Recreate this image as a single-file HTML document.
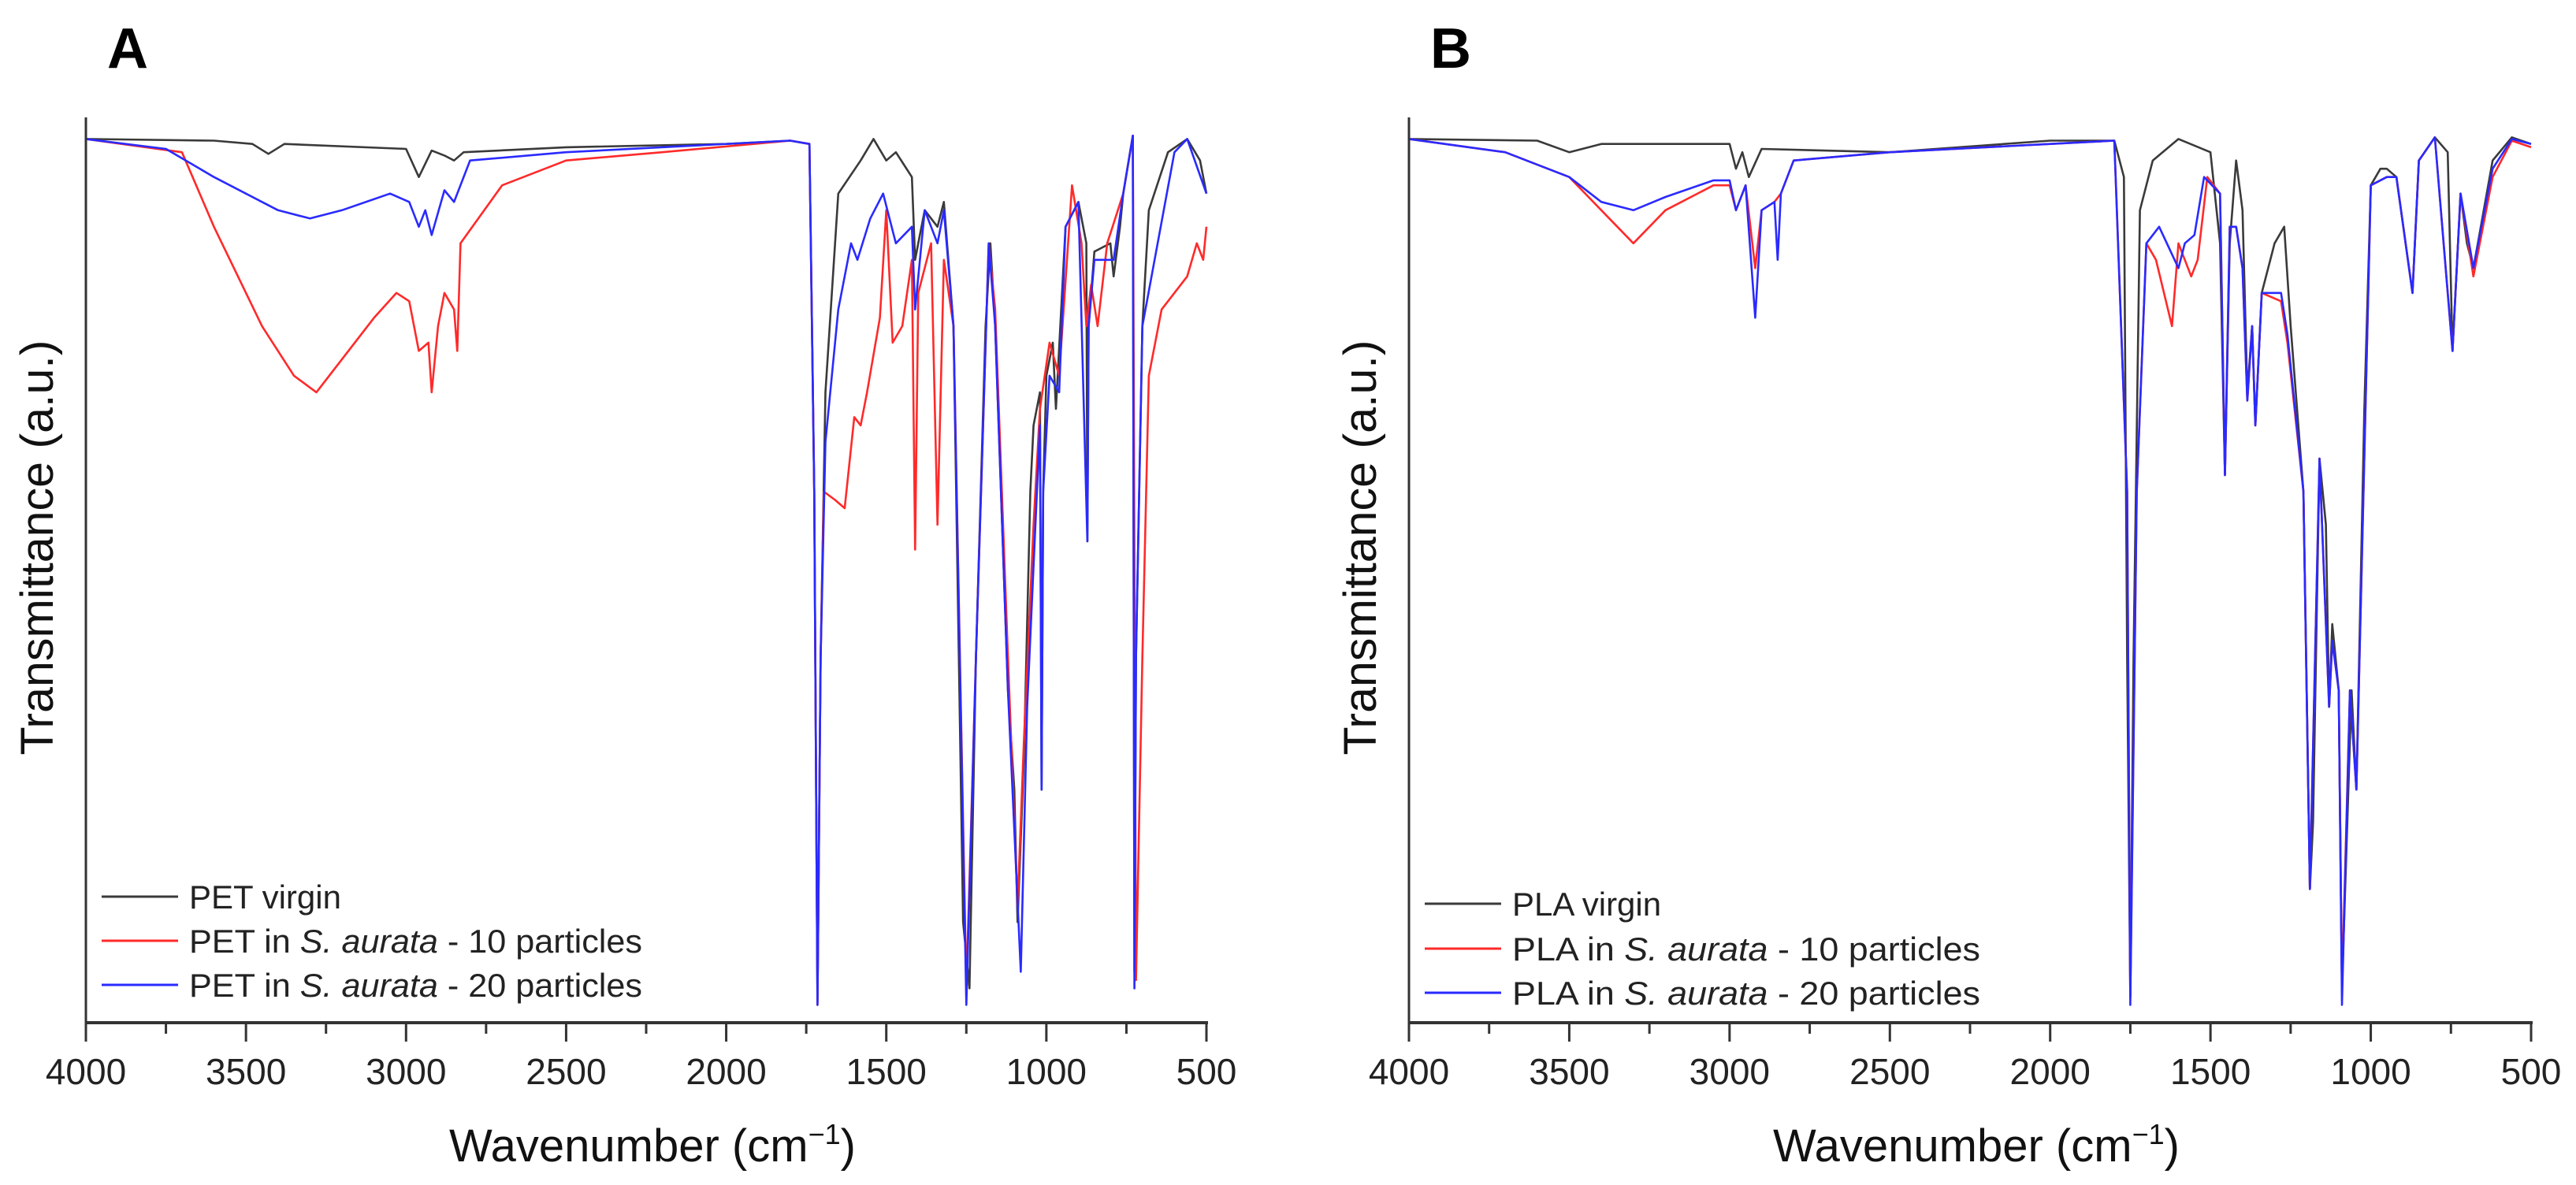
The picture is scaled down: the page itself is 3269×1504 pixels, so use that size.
<!DOCTYPE html>
<html><head><meta charset="utf-8"><style>
html,body{margin:0;padding:0;background:#fff}
svg{display:block;font-family:"Liberation Sans",Arial,sans-serif}
</style></head><body>
<svg id="chart" width="3269" height="1504" viewBox="0 0 3269 1504" xmlns="http://www.w3.org/2000/svg"></svg>
<script>
// Wavenumbers (cm-1) and signal values (arbitrary a.u., larger = lower transmittance position)
const petVirginWn = [4000,3600,3480,3430,3380,3000,2960,2920,2880,2850,2820,2500,2000,1800,1740,1725,1715,1705,1690,1650,1580,1540,1500,1470,1420,1410,1400,1380,1340,1320,1290,1260,1240,1220,1190,1175,1160,1120,1100,1090,1070,1050,1040,1020,1015,1010,1000,980,970,940,900,875,872,868,850,800,790,770,760,730,725,720,700,680,620,560,520,500];
const petVirginV  = [87,88,90,96,90,93,110,94,97,100,95,92,90,88,90,300,608,400,240,120,100,87,100,95,110,160,150,130,140,125,200,560,600,400,200,150,200,420,480,560,460,300,260,240,480,300,230,210,250,140,125,150,330,200,155,150,170,140,120,85,590,400,200,130,95,87,100,120];
const petR10Wn = [4000,3700,3600,3450,3350,3280,3200,3100,3030,2990,2960,2930,2920,2900,2880,2850,2840,2830,2700,2500,2200,1800,1740,1725,1715,1705,1695,1660,1630,1600,1580,1560,1520,1500,1480,1450,1420,1410,1400,1360,1340,1320,1290,1250,1220,1180,1160,1120,1090,1070,1040,1020,990,960,920,890,875,860,840,810,760,730,720,700,680,640,560,530,510,500];
const petR10V  = [87,95,140,200,230,240,220,195,180,185,215,210,240,200,180,190,215,150,115,100,95,88,90,300,610,400,300,305,310,255,260,240,195,130,210,200,160,335,180,150,320,160,200,600,400,150,190,400,550,450,320,250,210,230,115,150,200,175,200,150,120,85,595,400,230,190,170,150,160,140,180];
const petB20Wn = [4000,3750,3600,3450,3400,3300,3200,3050,2990,2960,2940,2920,2880,2850,2800,2500,1800,1740,1725,1715,1705,1690,1650,1610,1590,1550,1510,1470,1420,1410,1380,1340,1320,1290,1250,1220,1180,1160,1120,1080,1060,1020,1015,1010,990,960,940,900,872,868,850,790,760,730,725,720,700,600,560,500];
const petB20V  = [87,93,110,125,130,135,130,120,125,140,130,145,118,125,100,95,88,90,300,610,400,270,190,150,160,135,120,150,140,190,130,150,130,200,610,400,150,200,420,590,430,260,480,300,230,240,140,125,330,200,160,160,120,85,600,400,200,95,87,120];

const plaVirginWn = [4000,3600,3500,3400,3000,2980,2960,2940,2900,2500,2000,1800,1770,1760,1750,1740,1720,1680,1600,1500,1470,1455,1440,1420,1400,1385,1370,1360,1340,1300,1270,1250,1210,1190,1180,1160,1140,1130,1120,1100,1090,1060,1045,1020,1000,970,950,920,870,850,800,760,745,720,700,680,620,560,500];
const plaVirginV  = [87,88,95,90,90,105,95,110,93,95,88,88,110,400,605,400,130,100,87,95,150,290,150,100,130,240,200,260,180,150,140,200,300,540,500,280,320,430,380,420,600,420,480,250,115,105,105,110,180,100,86,95,215,120,150,165,100,86,90];
const plaR10Wn = [4000,3700,3500,3400,3300,3200,3050,3000,2980,2950,2920,2900,2860,2840,2800,2500,2000,1800,1760,1750,1730,1700,1670,1620,1600,1560,1540,1510,1470,1455,1440,1420,1400,1385,1370,1360,1340,1280,1260,1210,1190,1160,1130,1120,1100,1090,1065,1045,1000,950,920,870,850,800,745,720,680,620,560,500];
const plaR10V  = [87,95,110,130,150,130,115,115,130,115,165,130,125,120,100,95,90,88,300,605,300,150,160,200,150,170,160,110,120,290,140,140,165,245,200,260,180,185,210,300,540,280,430,390,420,600,420,480,115,110,110,180,100,86,215,120,170,110,88,92];
const plaB20Wn = [4000,3700,3500,3400,3300,3200,3050,3000,2980,2950,2920,2900,2860,2850,2840,2800,2500,2000,1800,1760,1750,1730,1700,1660,1600,1580,1550,1520,1470,1455,1440,1420,1400,1385,1370,1360,1340,1280,1260,1210,1190,1160,1130,1120,1100,1090,1065,1045,1000,950,920,870,850,800,745,720,680,620,560,500];
const plaB20V  = [87,95,110,125,130,122,112,112,130,115,195,130,125,160,120,100,95,90,88,300,610,300,150,140,165,150,145,110,120,290,140,140,165,245,200,260,180,180,205,300,540,280,430,390,420,610,420,480,115,110,110,180,100,86,215,120,165,105,87,90];

const xTicks = [4000,3500,3000,2500,2000,1500,1000,500];
const xMinorTicks = [3750,3250,2750,2250,1750,1250,750];

const NS = 'http://www.w3.org/2000/svg';
const svg = document.getElementById('chart');
function mk(tag, attrs, parent){const e=document.createElementNS(NS,tag);for(const k in attrs)e.setAttribute(k,attrs[k]);(parent||svg).appendChild(e);return e;}

const panels = [
  {key:'a', letter:'A', x0:109, x1:1531, label:'PET', series:[[petVirginWn,petVirginV,'#3a3a3a','PET virgin'],[petR10Wn,petR10V,'#ff2a2a','10'],[petB20Wn,petB20V,'#2a2aff','20']], legY:[1138,1194,1250], legW:575},
  {key:'b', letter:'B', x0:1788, x1:3212, label:'PLA', series:[[plaVirginWn,plaVirginV,'#3a3a3a','PLA virgin'],[plaR10Wn,plaR10V,'#ff2a2a','10'],[plaB20Wn,plaB20V,'#2a2aff','20']], legY:[1147,1204,1260], legW:594}
];
const yTop=149, yBot=1298;
function yScale(v){return 168 + (v-83)*(1309-168)/(626-83);}

panels.forEach(p=>{
  const xs = w => p.x0 + (4000-w)*(p.x1-p.x0)/3500;
  const g = mk('g',{});
  
  
  const L = mk('text',{x:p.x0+27,y:86,'font-size':72,'font-weight':'bold',fill:'#000'},g);
  L.textContent=p.letter;
  
  
  // series
  p.series.forEach((s,i)=>{
    const pts = s[0].map((w,j)=>xs(w).toFixed(1)+','+yScale(s[1][j]).toFixed(1)).join(' ');
    const pl = mk('polyline',{points:pts,fill:'none',stroke:s[2],'stroke-width':2.6,'stroke-linejoin':'round'},g);
    
    
  });
  // axes
  const ya = mk('line',{x1:p.x0,y1:yTop,x2:p.x0,y2:yBot,stroke:'#333','stroke-width':3},g);
  
  
  const xa = mk('line',{x1:p.x0-1.5,y1:yBot,x2:p.x1+2,y2:yBot,stroke:'#333','stroke-width':4},g);
  
  
  xTicks.forEach(t=>{
    const tk = mk('line',{x1:xs(t),y1:yBot,x2:xs(t),y2:yBot+24,stroke:'#333','stroke-width':3},g);
    
    
    const tl = mk('text',{x:xs(t),y:1376,'font-size':46,'text-anchor':'middle',fill:'#222'},g);
    tl.textContent=t;
    
    
  });
  xMinorTicks.forEach(t=>{
    const tk = mk('line',{x1:xs(t),y1:yBot,x2:xs(t),y2:yBot+14,stroke:'#333','stroke-width':3},g);
    
    
  });
  const cx = (p.x0+p.x1)/2;
  const xt = mk('text',{x:cx+8,y:1474,'font-size':58,'text-anchor':'middle',fill:'#111'},g);
  xt.innerHTML='Wavenumber (cm<tspan dy="-22" font-size="36">−1</tspan><tspan dy="22">)</tspan>';
  
  
  const yt = mk('text',{x:0,y:0,'font-size':58,'text-anchor':'middle',fill:'#111',transform:'translate('+(p.x0-42)+',695) rotate(-90)',textLength:527,lengthAdjust:'spacingAndGlyphs'},g);
  yt.textContent='Transmittance (a.u.)';
  
  
  // legend
  p.series.forEach((s,i)=>{
    const y=p.legY[i];
    const ln = mk('line',{x1:p.x0+20,y1:y,x2:p.x0+117,y2:y,stroke:s[2],'stroke-width':3},g);
    
    
    const t = mk('text',{x:p.x0+131,y:y+15,'font-size':42,fill:'#222'},g);
    if(i===0){t.textContent=s[3];}
    else{t.innerHTML=p.label+' in <tspan font-style="italic">S. aurata</tspan> - '+s[3]+' particles';
      t.setAttribute('textLength',p.legW);t.setAttribute('lengthAdjust','spacingAndGlyphs');}
    
    
  });
});
</script>
</body></html>
